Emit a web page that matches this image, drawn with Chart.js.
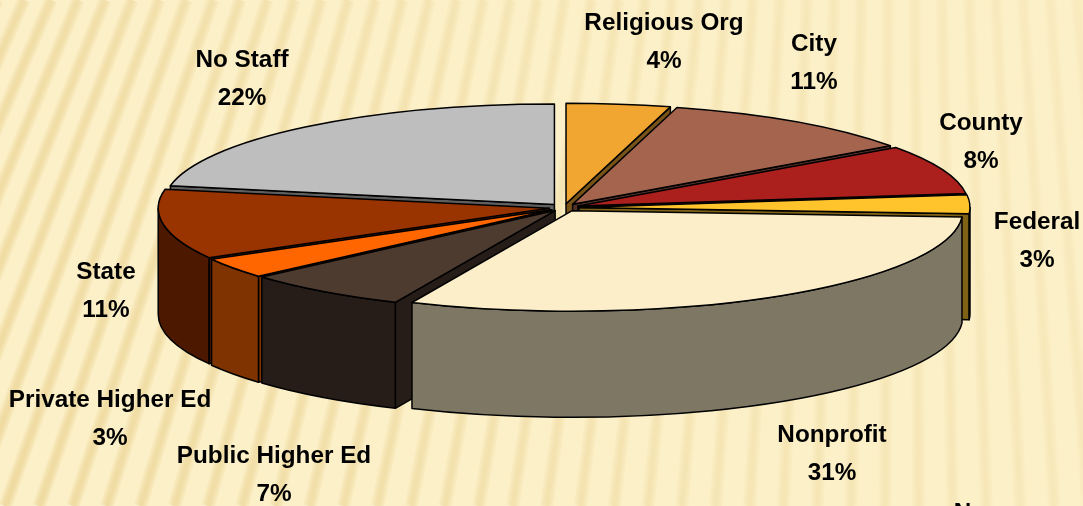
<!DOCTYPE html>
<html>
<head>
<meta charset="utf-8">
<style>
  html, body { margin: 0; padding: 0; background: #fbefc7; }
  #wrap { width: 1083px; height: 506px; overflow: hidden; }
</style>
<script src="https://cdn.jsdelivr.net/npm/chart.js@4/dist/chart.umd.min.js"></script>
</head>
<body>
<div id="wrap"><canvas id="fundingPie" width="1083" height="506"></canvas></div>
<script>
// data, slice sizes estimated from the drawn angles
const categories = ['Religious Org', 'City', 'County', 'Federal', 'Nonprofit', 'Public Higher Ed', 'Private Higher Ed', 'State', 'No Staff', 'None'];
const shares = [4.3, 10.8, 7.9, 3, 30.7, 6.8, 3.3, 11.2, 22, 0];
const sliceColors = ['#f0a630', '#a5644e', '#ab1f1d', '#ffc42c', '#fbeec9', '#4d3b30', '#ff6600', '#993300', '#bebebe', '#000000'];

// label centres, first line, same order as categories
const labelCentres = [[664, 23], [814, 44], [981, 123], [1037, 222], [832, 435], [274, 456], [110, 400], [106, 272], [242, 60], [984, 513]];

const TILT = 0.257;       // ellipse height / width
const DEPTH = 106;        // height of the pie wall
const EXPLODE = 15;       // slice pull-out from the centre
const LABEL_FONT = 'bold 24.3px "Liberation Sans", sans-serif';
const LINE_GAP = 38;

// half-tone of a slice colour, for its walls
function wallColor(hex) {
    const n = parseInt(hex.slice(1), 16);
    return `rgb(${(n >> 16) >> 1},${((n >> 8) & 255) >> 1},${(n & 255) >> 1})`;
}

// ---------------------------
// Striped slide background
// ---------------------------
const stripes = {
    id: 'stripes',
    beforeDraw(chart) {
        const { ctx, width, height } = chart;
        ctx.save();
        ctx.fillStyle = '#fcf0c8';
        ctx.fillRect(0, 0, width, height);
        const fade = ctx.createLinearGradient(0, height, width, 0);
        fade.addColorStop(0, 'rgba(222,190,110,0.17)');
        fade.addColorStop(0.55, 'rgba(222,190,110,0.08)');
        fade.addColorStop(1, 'rgba(222,190,110,0.04)');
        ctx.strokeStyle = fade;
        const fx = 900, fy = -2000;
        for (let x = -300; x < width + 60; x += 27) {
            // every stripe runs from a far point above the slide
            const bottomX = fx + (x - fx) * (fy - height) / fy;
            [13, 9, 5].forEach(w => {
                ctx.lineWidth = w;
                ctx.beginPath();
                ctx.moveTo(x, 0);
                ctx.lineTo(bottomX, height);
                ctx.stroke();
            });
        }
        ctx.restore();
    }
};

// ---------------------------
// Fake 3D: squash the pie, add walls
// ---------------------------
function sliceGeometry(chart) {
    const area = chart.chartArea;
    const cy = (area.top + area.bottom) / 2;
    return chart.getDatasetMeta(0).data.map((arc, i) => ({
        i, arc,
        ex: arc.x,
        ey: cy + (arc.y - cy) * TILT,
        r: arc.outerRadius,
        start: arc.startAngle,
        end: arc.endAngle,
    })).filter(s => s.end > s.start);
}

function strokeBlack(ctx) {
    ctx.lineWidth = 1.5;
    ctx.strokeStyle = '#000';
    ctx.lineJoin = 'round';
    ctx.stroke();
}

function drawWalls(ctx, s) {
    const { ex, ey, r, start, end } = s;
    ctx.fillStyle = wallColor(sliceColors[s.i]);

    const radial = a => {
        const px = ex + r * Math.cos(a);
        const py = ey + r * TILT * Math.sin(a);
        ctx.beginPath();
        ctx.moveTo(ex, ey);
        ctx.lineTo(px, py);
        ctx.lineTo(px, py + DEPTH);
        ctx.lineTo(ex, ey + DEPTH);
        ctx.closePath();
        ctx.fill();
        strokeBlack(ctx);
    };
    // radial faces that turn towards the viewer
    if (Math.cos(start) < 0) radial(start);
    if (Math.cos(end) > 0) radial(end);

    // outer wall, only the front half of the rim
    const a0 = Math.max(start, 0);
    const a1 = Math.min(end, Math.PI);
    if (a1 > a0) {
        ctx.beginPath();
        ctx.ellipse(ex, ey, r, r * TILT, 0, a0, a1);
        ctx.ellipse(ex, ey + DEPTH, r, r * TILT, 0, a1, a0, true);
        ctx.closePath();
        ctx.fill();
        strokeBlack(ctx);
    }
}

const pie3d = {
    id: 'pie3d',
    afterDatasetUpdate(chart) {
        // pull slices out here, the offset option also grows small slices
        chart.getDatasetMeta(0).data.forEach(arc => {
            const mid = (arc.startAngle + arc.endAngle) / 2;
            arc.x += Math.cos(mid) * EXPLODE;
            arc.y += Math.sin(mid) * EXPLODE;
        });
    },
    beforeDatasetDraw(chart) {
        const { ctx, chartArea: area } = chart;
        // back slices first
        sliceGeometry(chart)
            .sort((a, b) => Math.sin((a.start + a.end) / 2) - Math.sin((b.start + b.end) / 2))
            .forEach(s => drawWalls(ctx, s));
        const cy = (area.top + area.bottom) / 2;
        ctx.save();
        ctx.translate(0, cy);
        ctx.scale(1, TILT);
        ctx.translate(0, -cy);
    },
    afterDatasetDraw(chart) {
        const { ctx } = chart;
        ctx.restore();
        sliceGeometry(chart).forEach(s => {
            ctx.beginPath();
            ctx.moveTo(s.ex, s.ey);
            ctx.ellipse(s.ex, s.ey, s.r, s.r * TILT, 0, s.start, s.end);
            ctx.closePath();
            strokeBlack(ctx);
        });
    }
};

// ---------------------------
// Two line labels
// ---------------------------
const sliceLabels = {
    id: 'sliceLabels',
    afterDraw(chart) {
        const { ctx } = chart;
        ctx.save();
        ctx.font = LABEL_FONT;
        ctx.fillStyle = '#000';
        ctx.textAlign = 'center';
        ctx.textBaseline = 'middle';
        categories.forEach((name, i) => {
            const [x, y] = labelCentres[i];
            ctx.fillText(name, x, y);
            ctx.fillText(Math.round(shares[i]) + '%', x, y + LINE_GAP);
        });
        ctx.restore();
    }
};

new Chart(document.getElementById('fundingPie'), {
    type: 'pie',
    data: {
        labels: categories,
        datasets: [{
            data: shares,
            backgroundColor: sliceColors,
            borderWidth: 0,
            radius: 391,
            clip: false,
        }]
    },
    options: {
        responsive: false,
        animation: false,
        layout: { padding: { left: 45, bottom: 91 } },
        plugins: { legend: { display: false }, tooltip: { enabled: false } }
    },
    plugins: [stripes, pie3d, sliceLabels]
});
</script>
</body>
</html>
